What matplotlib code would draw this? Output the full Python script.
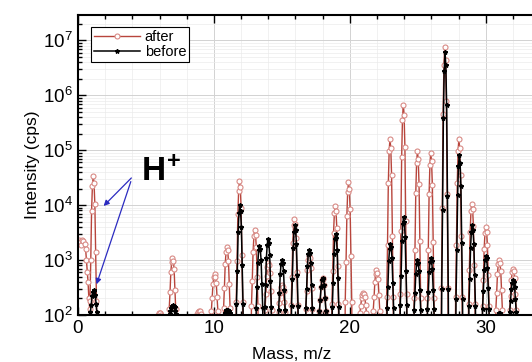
import numpy as np
import matplotlib
matplotlib.use("Agg")
from matplotlib import pyplot as plt
from matplotlib.ticker import LogLocator, MultipleLocator, NullFormatter

plt.rcParams["font.family"] = ["Liberation Sans", "DejaVu Sans"]
plt.rcParams["mathtext.fontset"] = "custom"
plt.rcParams["mathtext.rm"] = "Liberation Sans"
plt.rcParams["mathtext.bf"] = "Liberation Sans:bold"
plt.rcParams["mathtext.default"] = "regular"

# mass steps sampled around each peak centre (amu), ends sit below the axis
offsets = [-0.3, -0.24, -0.18, -0.12, -0.06, 0.0, 0.06, 0.12, 0.18, 0.24, 0.3]
floor = 1.0

# low mass shoulder of the "after" scan
after_low_mass = [0.0, 0.08, 0.16, 0.24, 0.32, 0.40, 0.48, 0.56, 0.62, 0.68, 0.74, 0.80, 0.86, 0.90]
after_low_counts = [2200, 2300, 2100, 1900, 2300, 2200, 2000, 1600, 1000, 600, 400, 200, 130, 1]

after_centres = [1.12, 6.0, 6.95, 8.9, 10.05, 10.95, 11.88, 13.0, 14.0, 15.0, 15.92,
                 17.0, 18.0, 18.92, 19.9, 20.98, 21.96, 22.95, 23.93, 24.97, 25.95,
                 26.98, 28.02, 28.97, 30.0, 30.98, 32.0]
after_peaks = [
    [180, 1.0e3, 7.9e3, 2.2e4, 3.4e4, 2.5e4, 1.05e4, 1.4e3, 180],
    [50, 80, 100, 108, 110, 107, 100, 80, 50],
    [127, 260, 600, 930, 1.1e3, 980, 680, 290, 127],
    [50, 80, 105, 115, 120, 116, 105, 80, 50],
    [118, 200, 360, 490, 550, 500, 390, 215, 118],
    [132, 310, 840, 1.4e3, 1.7e3, 1.5e3, 960, 360, 132],
    [175, 950, 6.8e3, 1.85e4, 2.75e4, 2.1e4, 8.9e3, 1.25e3, 175],
    [143, 415, 1.4e3, 2.7e3, 3.5e3, 2.9e3, 1.7e3, 490, 143],
    [125, 240, 510, 760, 900, 800, 575, 270, 125],
    [113, 165, 255, 318, 350, 325, 270, 175, 113],
    [150, 500, 2.05e3, 4.3e3, 5.6e3, 4.6e3, 2.5e3, 610, 150],
    [128, 270, 650, 1.0e3, 1.2e3, 1.07e3, 730, 305, 128],
    [117, 187, 325, 430, 480, 445, 350, 200, 117],
    [158, 630, 3.1e3, 7.1e3, 9.8e3, 7.8e3, 3.9e3, 790, 158],
    [175, 920, 6.4e3, 1.75e4, 2.6e4, 1.95e4, 8.5e3, 1.2e3, 175],
    [110, 145, 200, 235, 250, 240, 210, 150, 110],
    [120, 210, 405, 565, 650, 590, 445, 230, 120],
    [210, 1.9e3, 2.5e4, 9.5e4, 1.6e5, 1.1e5, 3.6e4, 2.75e3, 210],
    [240, 3.4e3, 7.4e4, 3.6e5, 6.8e5, 4.4e5, 1.15e5, 5.2e3, 240],
    [200, 1.55e3, 1.7e4, 5.9e4, 9.6e4, 6.8e4, 2.4e4, 2.2e3, 200],
    [200, 1.5e3, 1.6e4, 5.5e4, 9.0e4, 6.3e4, 2.3e4, 2.1e3, 200],
    [310, 8.9e3, 4.6e5, 3.5e6, 7.6e6, 4.4e6, 8.0e5, 1.6e4, 310],
    [210, 1.9e3, 2.5e4, 9.5e4, 1.6e5, 1.1e5, 3.6e4, 2.75e3, 210],
    [160, 650, 3.3e3, 7.8e3, 1.07e4, 8.5e3, 4.2e3, 820, 160],
    [145, 440, 1.6e3, 3.1e3, 4.0e3, 3.3e3, 1.9e3, 525, 145],
    [126, 250, 560, 850, 1.0e3, 890, 630, 280, 126],
    [122, 220, 435, 615, 700, 645, 480, 240, 122],
]

before_centres = [1.15, 6.98, 10.98, 11.9, 13.35, 13.98, 15.0, 15.95, 17.0, 18.0,
                  18.95, 22.98, 23.95, 24.97, 25.95, 27.0, 28.05, 29.0, 30.0, 31.0, 32.0]
before_peaks = [
    [112, 150, 218, 262, 280, 268, 230, 160, 112],
    [104, 117, 136, 147, 150, 148, 138, 120, 104],
    [101, 108, 115, 122, 125, 123, 118, 110, 101],
    [158, 630, 3.2e3, 7.2e3, 1.0e4, 7.9e3, 4.0e3, 800, 158],
    [133, 320, 890, 1.5e3, 1.8e3, 1.6e3, 1.0e3, 370, 133],
    [138, 355, 1.1e3, 1.9e3, 2.4e3, 2.05e3, 1.26e3, 415, 138],
    [126, 250, 560, 850, 1.0e3, 890, 630, 280, 126],
    [145, 450, 1.67e3, 3.3e3, 4.3e3, 3.55e3, 2.0e3, 540, 145],
    [132, 300, 780, 1.3e3, 1.55e3, 1.35e3, 900, 345, 132],
    [117, 187, 325, 430, 470, 445, 350, 200, 117],
    [140, 390, 1.3e3, 2.4e3, 3.0e3, 2.55e3, 1.5e3, 465, 140],
    [135, 330, 950, 1.6e3, 2.0e3, 1.7e3, 1.1e3, 385, 135],
    [150, 515, 2.2e3, 4.5e3, 6.0e3, 4.9e3, 2.65e3, 630, 150],
    [126, 250, 560, 850, 1.0e3, 890, 630, 280, 126],
    [127, 260, 600, 930, 1.1e3, 980, 680, 290, 127],
    [300, 8.3e3, 3.9e5, 2.8e6, 6.2e6, 3.5e6, 6.8e5, 1.45e4, 300],
    [195, 1.5e3, 1.55e4, 5.2e4, 8.3e4, 5.9e4, 2.2e4, 2.05e3, 195],
    [145, 450, 1.67e3, 3.3e3, 4.3e3, 3.55e3, 2.0e3, 540, 145],
    [128, 270, 650, 1.0e3, 1.2e3, 1.07e3, 730, 305, 128],
    [50, 80, 100, 108, 110, 107, 100, 80, 50],
    [115, 178, 295, 390, 430, 400, 318, 192, 115],
]


def spectrum(centres, peaks):
    x, y = [], []
    for c, vals in zip(centres, peaks):
        x += [c + d for d in offsets]
        y += [floor] + list(vals) + [floor]
    return np.array(x), np.array(y)


ax_mass, ax_counts = spectrum(after_centres, after_peaks)
ax_mass = np.concatenate([after_low_mass, ax_mass])
ax_counts = np.concatenate([after_low_counts, ax_counts])
bf_mass, bf_counts = spectrum(before_centres, before_peaks)

fig = plt.figure(figsize=(5.32, 3.62), dpi=100)
ax = fig.add_axes([0.1466, 0.1298, 0.8534, 0.8287])

ax.plot(ax_mass, ax_counts, "-", color="#b8453c", lw=1.0, marker="o", ms=3.6,
        mfc="white", mec="#d88a85", mew=0.8, label="after")
ax.plot(bf_mass, bf_counts, "-", color="black", lw=1.1, marker="*", ms=3.2,
        mfc="black", mec="black", label="before")

ax.set_yscale("log")
ax.set_xlim(0, 33.4)
ax.set_ylim(100, 2.9e7)

ax.xaxis.set_major_locator(MultipleLocator(10))
ax.xaxis.set_minor_locator(MultipleLocator(2))
ax.yaxis.set_major_locator(LogLocator(base=10, numticks=10))
ax.yaxis.set_minor_locator(LogLocator(base=10, subs=np.arange(2, 10), numticks=100))
ax.yaxis.set_minor_formatter(NullFormatter())

ax.grid(which="major", color="#d2d2d2", lw=0.7)
ax.grid(which="minor", color="#ebebeb", lw=0.5)
ax.set_axisbelow(True)

ax.tick_params(which="both", direction="in", top=True, labelsize=13.5, width=1.0)
ax.tick_params(which="major", length=6)
ax.tick_params(which="minor", length=3)
for side in ["left", "bottom", "top"]:
    ax.spines[side].set_linewidth(1.5)
ax.spines["right"].set_visible(False)

ax.set_xlabel("Mass, m/z", fontsize=12.5)
ax.xaxis.set_label_coords(0.471, -0.105)
ax.set_ylabel("Intensity (cps)", fontsize=12.5, labelpad=2)

leg = ax.legend(loc="upper left", fontsize=10.5, handlelength=3.2, handletextpad=0.3,
                borderpad=0.2, labelspacing=0.1, fancybox=False, framealpha=1,
                edgecolor="black", bbox_to_anchor=(0.012, 0.985))
leg.get_frame().set_linewidth(0.8)

ax.text(6.1, 4.0e4, r"$\mathbf{H^{\!+}}$", fontsize=24, ha="center", va="center")
ax.annotate("", xy=(1.74, 8.9e3), xytext=(4.07, 3.4e4),
            arrowprops=dict(arrowstyle="-|>", color="#2b2bc0", lw=0.9, mutation_scale=8))
ax.annotate("", xy=(1.30, 325), xytext=(3.95, 3.0e4),
            arrowprops=dict(arrowstyle="-|>", color="#2b2bc0", lw=0.9, mutation_scale=8))

fig.savefig("out.png", dpi=100)
